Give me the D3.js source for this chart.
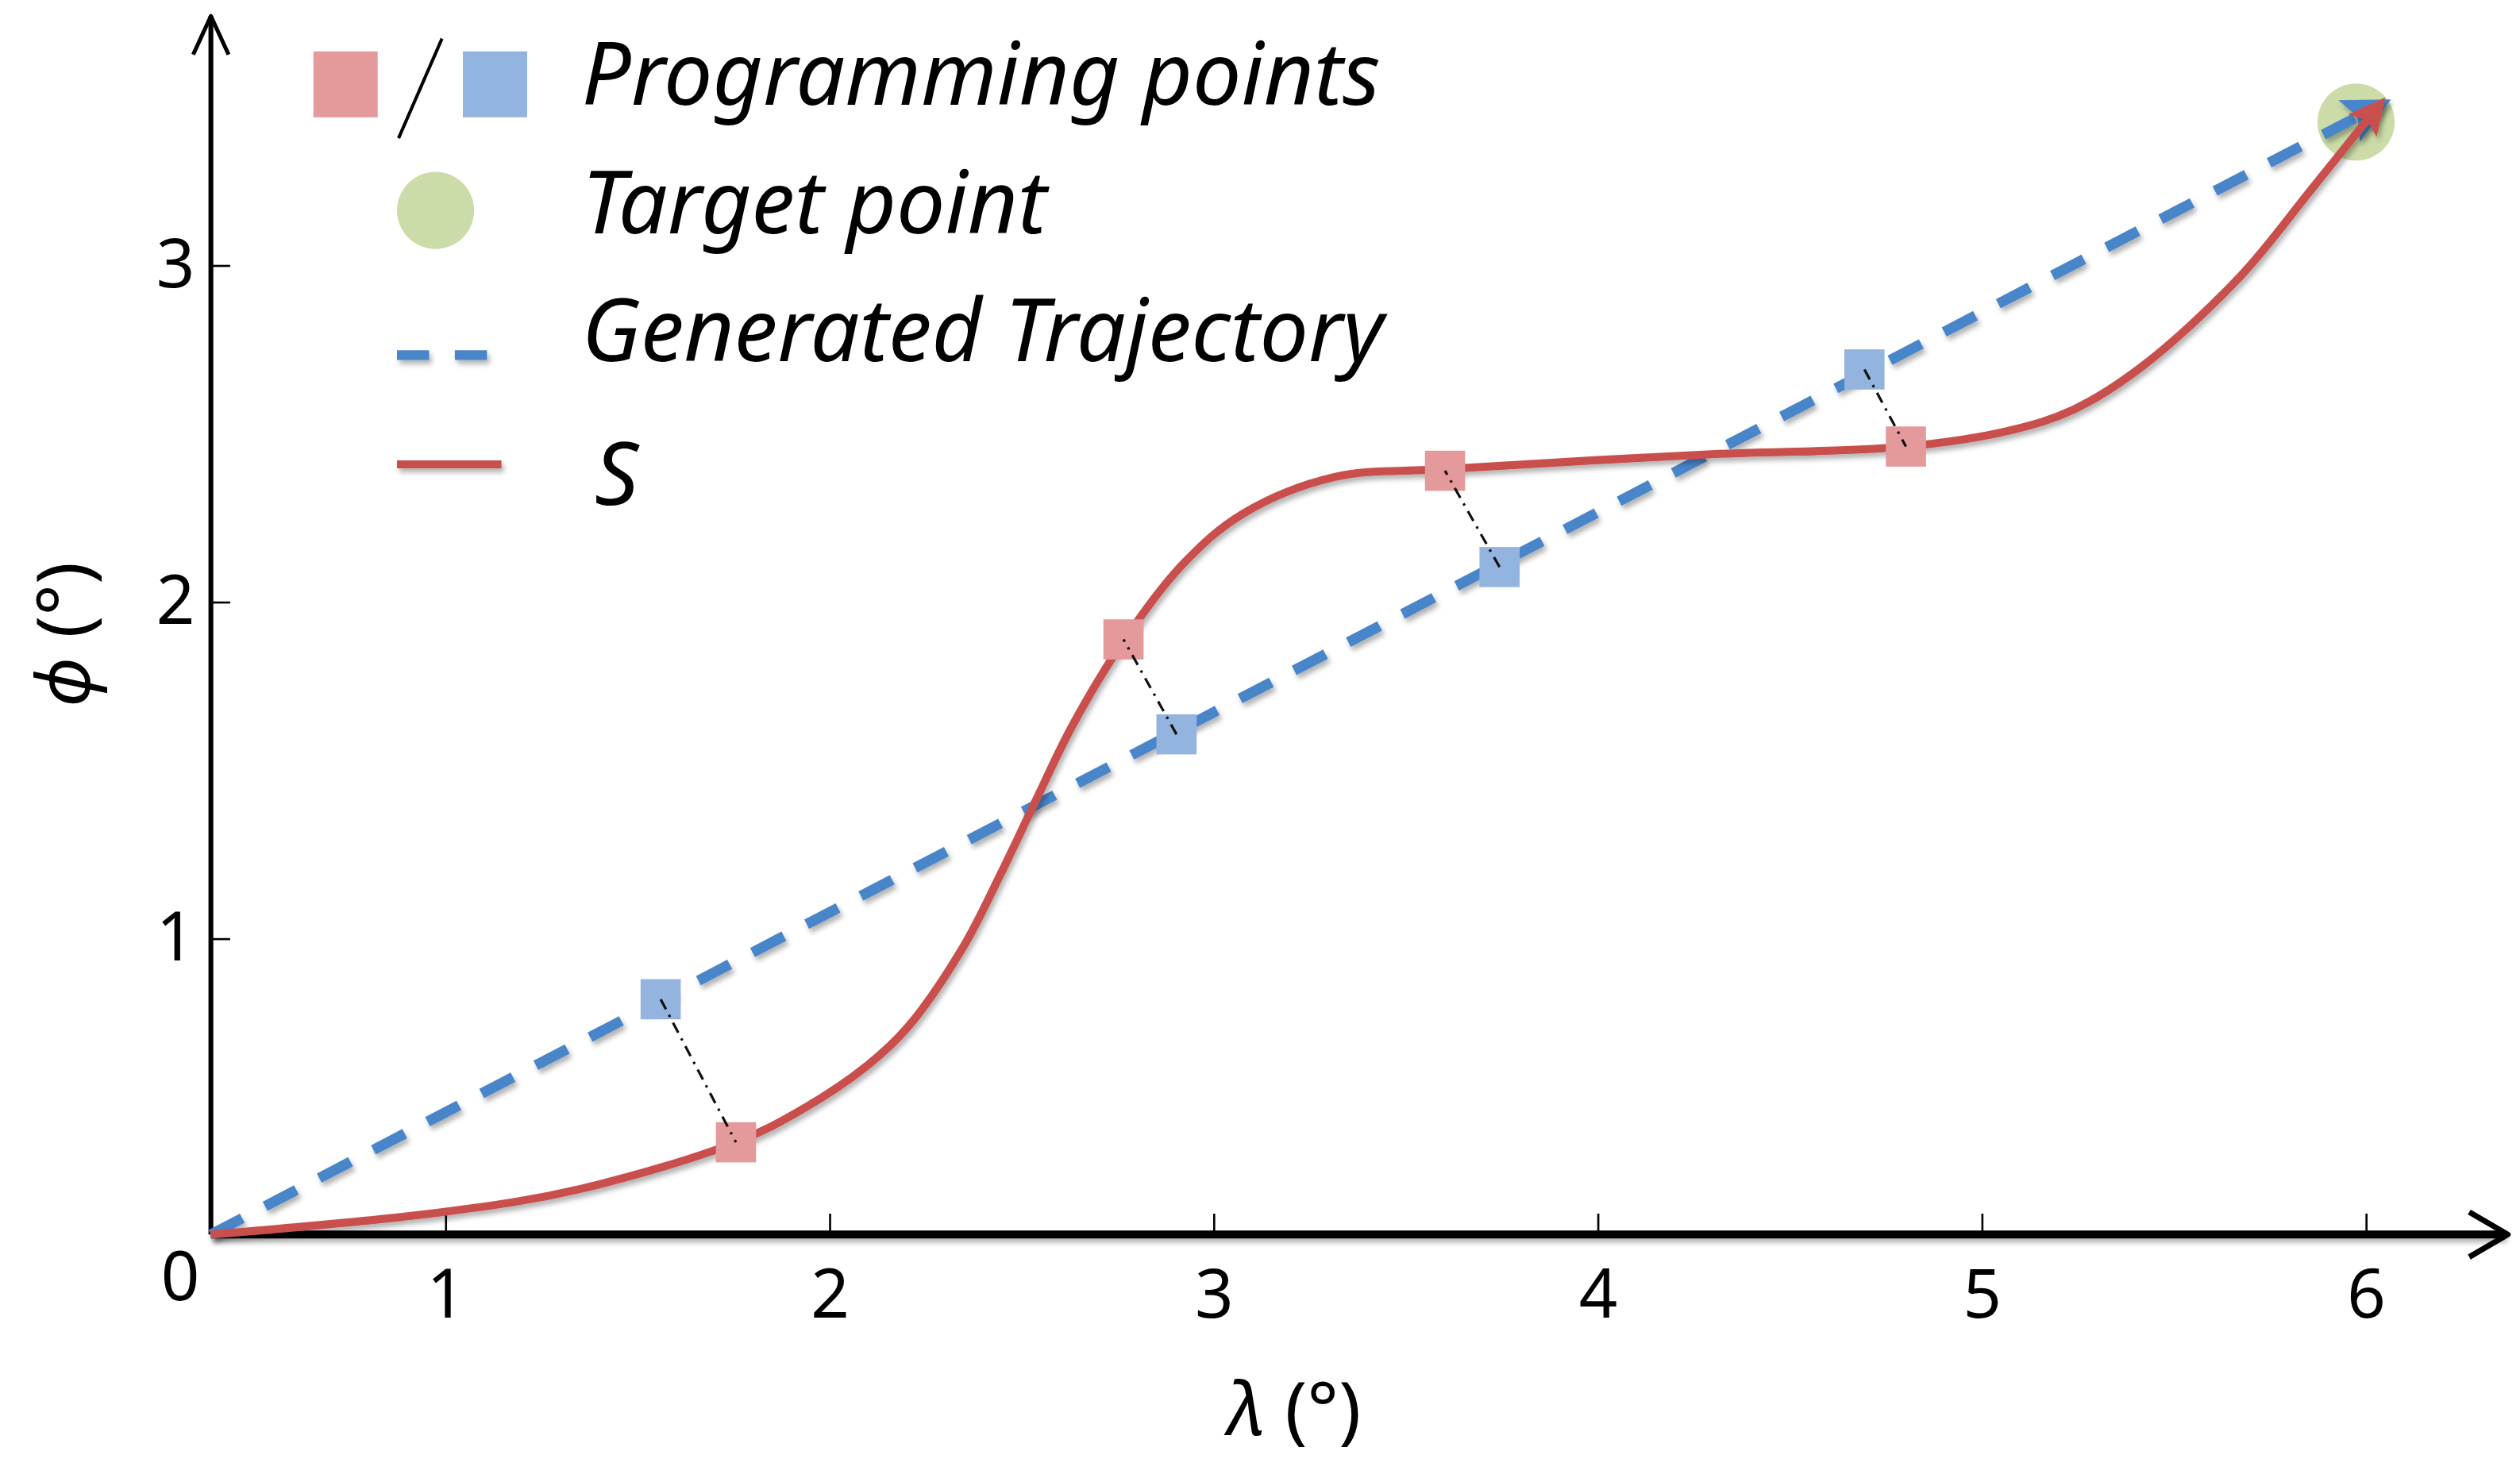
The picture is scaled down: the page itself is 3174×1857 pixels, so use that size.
<!DOCTYPE html>
<html>
<head>
<meta charset="utf-8">
<script src="https://cdn.jsdelivr.net/npm/d3@7"></script>
<style>
  html, body { margin: 0; padding: 0; background: #fff; }
  svg { display: block; }
  text { font-family: "Noto Sans", "Open Sans", sans-serif; fill: #000; }
</style>
</head>
<body>
<div id="root"></div>
<script>
// axis ticks
const xTicks = [1, 2, 3, 4, 5, 6];
const yTicks = [1, 2, 3];

// corner of the axes (labelled "0") and axis arrow ends, in data units
const originPt = [0.39, 0.12];
const axisEnd = [6.37, 3.74];

// S curve
const sLambda = [0.39, 1.01, 1.35, 1.757, 1.933, 2.10, 2.205, 2.347, 2.444, 2.54, 2.632, 2.766, 2.921, 3.075, 3.314, 3.603, 4.276, 4.803, 5.071, 5.238, 5.418, 5.674, 5.858, 6.033];
const sPhi    = [0.12, 0.189, 0.255, 0.394, 0.494, 0.623, 0.737, 0.971, 1.186, 1.415, 1.63, 1.883, 2.112, 2.26, 2.37, 2.394, 2.437, 2.461, 2.508, 2.570, 2.699, 2.967, 3.224, 3.473];

// generated trajectory (straight line to the target)
const trajLambda = [0.39, 6.033];
const trajPhi    = [0.12, 3.473];

// programming points on S (red) and on trajectory (blue)
const redLambda  = [1.757, 2.766, 3.603, 4.803];
const redPhi     = [0.394, 1.888, 2.389, 2.461];
const blueLambda = [1.561, 2.904, 3.745, 4.695];
const bluePhi    = [0.819, 1.606, 2.103, 2.690];

// target point
const targetLambda = 5.975;
const targetPhi = 3.425;

const legendLabels = ["Programming points", "Target point", "Generated Trajectory", "S"];

const W = 1568, H = 917.4;

const svg = d3.select("#root").append("svg")
	.attr("width", 3174)
	.attr("height", 1857)
	.attr("viewBox", `0 0 ${W} ${H}`);

const defs = svg.append("defs");
const shadow = defs.append("filter").attr("id", "shadow")
	.attr("filterUnits", "userSpaceOnUse")
	.attr("x", 0).attr("y", 0).attr("width", W).attr("height", H);
shadow.append("feDropShadow")
	.attr("dx", 1.5).attr("dy", 2.5).attr("stdDeviation", 1.6)
	.attr("flood-color", "#000").attr("flood-opacity", 0.3);

function marker(id, color) {
	defs.append("marker")
		.attr("id", id)
		.attr("viewBox", "0 0 10 10")
		.attr("refX", 7).attr("refY", 5)
		.attr("markerWidth", 4.5).attr("markerHeight", 4.5)
		.attr("markerUnits", "strokeWidth")
		.attr("orient", "auto")
		.append("path")
		.attr("d", "M0,0 L10,5 L0,10 L2,5 Z")
		.attr("fill", color);
}
marker("arrowBlue", "#4a85c9");
marker("arrowRed", "#c9504e");

const x = d3.scaleLinear().domain([1, 6]).range([277, 1472]);
const y = d3.scaleLinear().domain([1, 3]).range([584, 165]);

// target point (behind the lines)
svg.append("circle")
	.attr("cx", x(targetLambda))
	.attr("cy", y(targetPhi))
	.attr("r", 24)
	.attr("fill", "#cbdca8");

// axes
const axes = svg.append("g").attr("class", "axes");

const xAxis = axes.append("g")
	.attr("transform", `translate(0,${y(originPt[1])})`)
	.call(d3.axisBottom(x).tickValues(xTicks).tickFormat(d3.format("d"))
		.tickSizeInner(-13).tickSizeOuter(0).tickPadding(22));
xAxis.select(".domain").remove();
xAxis.selectAll(".tick line").attr("stroke", "#000").attr("stroke-width", 1.3);
xAxis.selectAll(".tick text").attr("font-size", 42).attr("font-family", "Noto Sans");

const yAxis = axes.append("g")
	.attr("transform", `translate(${x(originPt[0])},0)`)
	.call(d3.axisLeft(y).tickValues(yTicks).tickFormat(d3.format("d"))
		.tickSizeInner(-12).tickSizeOuter(0).tickPadding(10));
yAxis.select(".domain").remove();
yAxis.selectAll(".tick line").attr("stroke", "#000").attr("stroke-width", 1.3);
yAxis.selectAll(".tick text").attr("font-size", 42).attr("font-family", "Noto Sans");

const ox = x(originPt[0]), oy = y(originPt[1]);
const ex = x(axisEnd[0]), ey = y(axisEnd[1]);

// x axis line + open arrow
axes.append("path")
	.attr("d", `M${ox},${oy} L${ex - 2},${oy}`)
	.attr("stroke", "#000").attr("stroke-width", 5).attr("fill", "none")
	.attr("filter", "url(#shadow)");
axes.append("path")
	.attr("d", `M${ex - 24},${oy - 14} L${ex},${oy} L${ex - 24},${oy + 14}`)
	.attr("stroke", "#000").attr("stroke-width", 3.5).attr("fill", "none")
	.attr("stroke-linejoin", "round");

// y axis line + open arrow
axes.append("path")
	.attr("d", `M${ox},${oy} L${ox},${ey}`)
	.attr("stroke", "#000").attr("stroke-width", 3).attr("fill", "none");
axes.append("path")
	.attr("d", `M${ox - 11},${ey + 24} L${ox},${ey} L${ox + 11},${ey + 24}`)
	.attr("stroke", "#000").attr("stroke-width", 2.5).attr("fill", "none")
	.attr("stroke-linejoin", "round");

// "0" at the corner
axes.append("text")
	.attr("x", ox - 19).attr("y", oy + 26)
	.attr("text-anchor", "middle").attr("dy", "0.35em")
	.attr("font-size", 42)
	.text("0");

// axis titles
const xTitle = svg.append("text")
	.attr("x", 805).attr("y", 893)
	.attr("text-anchor", "middle")
	.attr("font-size", 46);
xTitle.append("tspan").attr("font-style", "italic").text("λ");
xTitle.append("tspan").text(" (°)");

const yTitle = svg.append("text")
	.attr("transform", "translate(56,395) rotate(-90)")
	.attr("text-anchor", "middle")
	.attr("font-size", 46);
yTitle.append("tspan").attr("font-style", "italic").text("ϕ");
yTitle.append("tspan").text(" (°)");

// generated trajectory
const line = d3.line().x(d => x(d[0])).y(d => y(d[1]));
svg.append("path")
	.datum(d3.zip(trajLambda, trajPhi))
	.attr("d", line)
	.attr("fill", "none")
	.attr("stroke", "#4a85c9")
	.attr("stroke-width", 6.5)
	.attr("stroke-dasharray", "22,16")
	.attr("marker-end", "url(#arrowBlue)")
	.attr("filter", "url(#shadow)");

// S curve
const curve = d3.line().x(d => x(d[0])).y(d => y(d[1])).curve(d3.curveCatmullRom.alpha(0.5));
svg.append("path")
	.datum(d3.zip(sLambda, sPhi))
	.attr("d", curve)
	.attr("fill", "none")
	.attr("stroke", "#c9504e")
	.attr("stroke-width", 5)
	.attr("marker-end", "url(#arrowRed)")
	.attr("filter", "url(#shadow)");

// programming points
const sq = 25;
svg.selectAll(".red-pt")
	.data(d3.zip(redLambda, redPhi))
	.enter().append("rect")
	.attr("class", "red-pt")
	.attr("x", d => x(d[0]) - sq / 2)
	.attr("y", d => y(d[1]) - sq / 2)
	.attr("width", sq).attr("height", sq)
	.attr("fill", "#e4999b");

svg.selectAll(".blue-pt")
	.data(d3.zip(blueLambda, bluePhi))
	.enter().append("rect")
	.attr("class", "blue-pt")
	.attr("x", d => x(d[0]) - sq / 2)
	.attr("y", d => y(d[1]) - sq / 2)
	.attr("width", sq).attr("height", sq)
	.attr("fill", "#93b4de");

// dash-dot connectors between matching points
svg.selectAll(".link")
	.data(d3.range(redLambda.length))
	.enter().append("line")
	.attr("class", "link")
	.attr("x1", i => x(blueLambda[i]))
	.attr("y1", i => y(bluePhi[i]))
	.attr("x2", i => x(redLambda[i]))
	.attr("y2", i => y(redPhi[i]))
	.attr("stroke", "#111")
	.attr("stroke-width", 1.6)
	.attr("stroke-dasharray", "7,4,1.5,4");

// legend
const legend = svg.append("g").attr("class", "legend");
const textX = 362;
const legendY = [65, 145, 225, 314];

legend.append("rect").attr("x", 195).attr("y", 32).attr("width", 40).attr("height", 41).attr("fill", "#e4999b");
legend.append("line").attr("x1", 275).attr("y1", 24).attr("x2", 248).attr("y2", 86)
	.attr("stroke", "#000").attr("stroke-width", 2);
legend.append("rect").attr("x", 288).attr("y", 32).attr("width", 40).attr("height", 41).attr("fill", "#93b4de");

legend.append("circle").attr("cx", 271).attr("cy", 131).attr("r", 24).attr("fill", "#cbdca8");

legend.append("line").attr("x1", 247).attr("y1", 221).attr("x2", 304).attr("y2", 221)
	.attr("stroke", "#4a85c9").attr("stroke-width", 6).attr("stroke-dasharray", "20,16")
	.attr("filter", "url(#shadow)");

legend.append("line").attr("x1", 247).attr("y1", 289).attr("x2", 312).attr("y2", 289)
	.attr("stroke", "#c9504e").attr("stroke-width", 5)
	.attr("filter", "url(#shadow)");

legend.selectAll(".label")
	.data(legendLabels)
	.enter().append("text")
	.attr("class", "label")
	.attr("x", (d, i) => i === 3 ? textX + 8 : textX)
	.attr("y", (d, i) => legendY[i])
	.attr("font-size", 54)
	.attr("font-style", "italic")
	.text(d => d);
</script>
</body>
</html>
